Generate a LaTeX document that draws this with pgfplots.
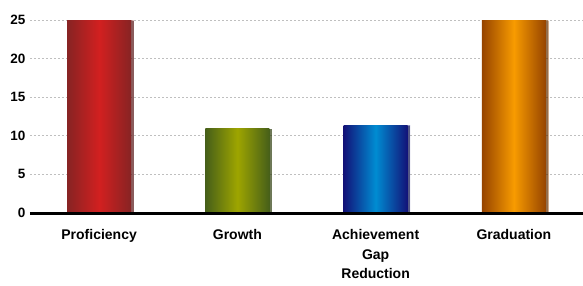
\documentclass[border=0pt]{standalone}
\usepackage{pgfplots}
\pgfplotsset{compat=1.18}
\usepackage{fontspec}
\setmainfont{Liberation Sans}
\usetikzlibrary{shadows}
\definecolor{redE}{RGB}{135,35,35}
\definecolor{redC}{RGB}{210,32,32}
\definecolor{grnE}{RGB}{70,95,25}
\definecolor{grnC}{RGB}{158,165,0}
\definecolor{bluE}{RGB}{18,18,120}
\definecolor{bluC}{RGB}{0,140,210}
\definecolor{oraE}{RGB}{150,68,0}
\definecolor{oraC}{RGB}{248,155,0}
\begin{document}
\begin{tikzpicture}
\begin{axis}[
  scale only axis, width=553pt, height=213pt,
  xmin=-0.5, xmax=3.5, ymin=0, ymax=27.6,
  axis line style={draw=none},
  ytick={0,5,10,15,20,25},
  xtick={0,1,2,3},
  xticklabels={Proficiency,Growth,Achievement\\Gap\\Reduction,Graduation},
  xticklabel style={align=center, font=\fontsize{14}{19.5}\selectfont\bfseries, yshift=-13pt},
  yticklabel style={font=\fontsize{13.5}{16}\selectfont\bfseries, xshift=-1pt},
  /pgf/number format/assume math mode=true,
  major tick length=0pt,
  ymajorgrids,
  grid style={gray!50, line width=0.8pt, dash pattern=on 2pt off 2pt},
  clip=false,
]
\coordinate (o) at (rel axis cs:0,0);
\addplot[ybar, bar width=64pt, bar shift=0pt, draw=none, left color=redE, right color=redE, middle color=redC, drop shadow={shadow xshift=2.5pt, shadow yshift=-0.5pt, opacity=0.45, fill=black}] coordinates {(0,25)};
\addplot[ybar, bar width=64pt, bar shift=0pt, draw=none, left color=grnE, right color=grnE, middle color=grnC, drop shadow={shadow xshift=2.5pt, shadow yshift=-0.5pt, opacity=0.45, fill=black}] coordinates {(1,10.9)};
\addplot[ybar, bar width=64pt, bar shift=0pt, draw=none, left color=bluE, right color=bluE, middle color=bluC, drop shadow={shadow xshift=2.5pt, shadow yshift=-0.5pt, opacity=0.45, fill=black}] coordinates {(2,11.4)};
\addplot[ybar, bar width=64pt, bar shift=0pt, draw=none, left color=oraE, right color=oraE, middle color=oraC, drop shadow={shadow xshift=2.5pt, shadow yshift=-0.5pt, opacity=0.45, fill=black}] coordinates {(3,25)};
\draw[line width=3pt, black] (rel axis cs:0,0) -- (rel axis cs:1,0);
\end{axis}
\pgfresetboundingbox
\path (o) ++(-30pt,-72pt) rectangle ++(583pt,285pt);
\end{tikzpicture}
\end{document}
